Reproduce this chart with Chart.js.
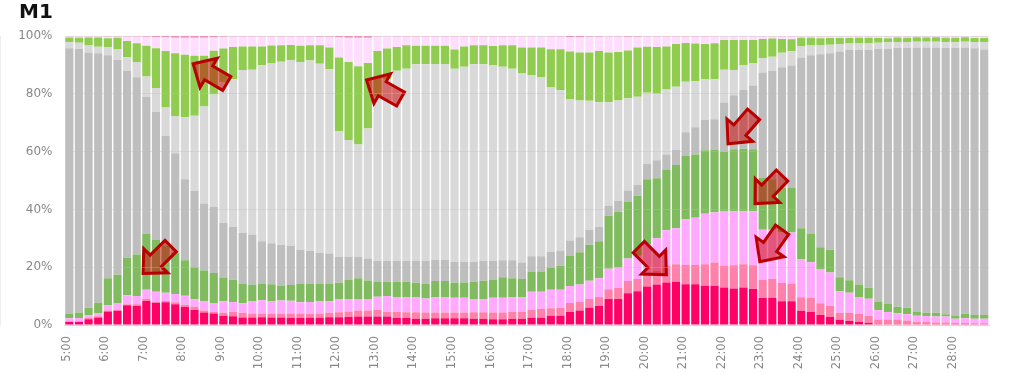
<!DOCTYPE html>
<html>
<head>
<meta charset="utf-8">
<style>
  html, body { margin: 0; padding: 0; background: #fff; }
</style>
<script src="https://cdn.jsdelivr.net/npm/chart.js@4"></script>
</head>
<body>
<canvas id="M1Chart" width="1020" height="377"></canvas>
<script>
const hourLabels = ["5:00","6:00","7:00","8:00","9:00","10:00","11:00","12:00","13:00","14:00","15:00","16:00",
  "17:00","18:00","19:00","20:00","21:00","22:00","23:00","24:00","25:00","26:00","27:00","28:00"];

// upper edge of each band in percent, one value per bar (15 min)
const hotTop = [
  1.0,1.0,2.0,2.6,4.7,4.9,6.8,6.6,8.3,7.7,7.9,7.2,
  6.2,5.2,4.3,4.0,3.2,3.0,2.6,2.6,2.7,2.6,2.6,2.4,
  2.4,2.5,2.5,2.7,2.7,2.8,2.9,2.9,2.9,2.9,2.4,2.4,
  2.2,2.2,2.3,2.3,2.3,2.3,2.2,2.1,2.0,2.0,2.2,2.2,
  2.5,2.5,3.2,3.2,4.5,5.0,6.0,6.6,9.0,9.0,11.0,11.7,
  13.3,14.0,14.7,14.9,14.1,14.1,13.6,13.6,13.0,12.6,13.0,12.5,
  9.3,9.4,8.2,8.2,4.9,4.5,3.5,2.8,1.8,1.4,1.0,0.8,
  0.3,0.3,0.3,0.3,0.3,0.3,0.3,0.3,0.3,0.3,0.3,0.3];
const pinkTop = [
  1.3,1.3,2.4,3.0,5.0,5.2,7.2,7.2,9.0,8.0,8.3,7.9,
  7.0,6.3,5.0,4.6,4.2,4.5,4.2,4.0,4.0,4.0,4.0,4.0,
  4.0,3.8,4.0,4.2,4.4,4.7,5.0,5.0,5.2,4.5,4.5,4.4,
  4.4,4.3,4.3,4.3,4.3,4.3,4.4,4.4,4.3,4.3,4.5,4.5,
  5.3,5.5,5.8,6.0,7.6,8.0,9.0,9.7,12.4,12.8,15.2,15.9,
  18.0,18.8,20.4,21.0,20.8,20.8,21.0,21.6,20.6,20.7,21.0,20.7,
  15.7,16.0,14.5,14.4,9.6,9.4,7.5,6.7,4.2,4.2,3.8,3.2,
  1.9,1.9,1.9,1.6,1.0,1.0,0.9,0.9,0.7,0.7,0.6,0.6];
const lilacTop = [
  2.3,2.4,3.4,4.0,6.8,7.4,10.3,10.0,12.2,11.5,11.2,10.7,
  10.1,8.9,8.1,7.6,8.2,8.0,7.5,8.1,8.6,8.3,8.5,8.4,
  7.9,8.0,8.3,8.3,8.8,9.0,9.0,9.0,9.8,10.0,9.7,9.5,
  9.5,9.2,9.5,9.5,9.4,9.4,9.0,9.0,9.4,9.4,9.5,9.5,
  11.5,11.5,12.2,12.2,13.5,14.0,15.3,16.2,19.5,20.1,23.0,24.0,
  28.0,30.0,32.8,33.5,36.6,37.1,38.5,39.0,39.3,39.3,39.4,39.4,
  33.0,33.0,32.0,32.0,22.8,21.7,19.2,18.2,11.6,11.2,9.7,9.1,
  5.1,4.5,4.1,3.7,3.2,3.1,2.9,2.9,2.2,2.3,2.2,2.2];
const darkGreenTop = [
  3.8,4.3,6.0,7.7,16.2,17.4,23.3,24.4,31.7,29.6,27.5,25.0,
  22.4,20.0,18.9,18.0,16.4,15.7,14.2,13.9,14.2,14.1,13.7,13.8,
  14.2,14.2,14.2,14.2,14.6,15.6,16.2,15.4,15.0,15.0,15.0,15.0,
  14.6,14.4,15.2,15.2,14.6,14.7,15.0,15.3,15.6,16.5,16.2,15.9,
  18.5,18.5,19.9,20.5,23.9,25.2,27.8,29.0,37.8,39.1,42.6,44.7,
  50.4,50.8,53.8,55.4,58.5,59.0,60.5,60.7,60.0,60.8,61.0,60.8,
  51.0,50.4,47.6,47.6,33.5,31.7,26.9,26.0,16.5,15.5,14.0,12.9,
  8.0,7.4,6.3,6.0,4.5,4.2,4.2,3.7,3.3,3.9,3.5,3.5];
const grayTop = [
  95.8,95.5,94.3,94.0,93.3,91.7,88.0,85.7,78.9,73.8,65.4,59.4,
  50.4,46.4,42.0,40.8,35.3,34.0,31.8,31.3,29.0,28.3,27.7,27.4,
  26.0,25.7,25.0,24.7,23.6,23.6,23.6,23.0,22.2,22.2,22.2,22.2,
  22.2,22.2,22.5,22.5,21.8,21.8,21.8,22.2,22.2,22.4,22.4,21.6,
  23.8,23.8,25.3,25.8,29.2,30.4,33.0,34.0,41.3,43.0,46.5,48.4,
  55.8,57.0,59.0,60.6,66.7,68.4,71.0,71.2,77.0,79.5,81.4,82.9,
  87.4,88.0,89.2,89.8,92.6,93.3,93.7,94.0,94.6,95.2,95.2,95.2,
  95.6,95.6,95.9,95.9,96.0,96.0,96.0,95.9,95.9,96.0,95.8,95.3];
const lightGrayTop = [
  97.8,97.7,96.7,96.3,96.2,95.3,92.7,91.0,86.0,82.0,75.3,72.3,
  71.9,72.4,75.6,79.8,84.0,85.0,88.2,88.3,89.9,90.5,91.1,91.6,
  90.9,91.5,90.4,88.5,67.0,64.0,62.5,68.0,79.0,85.0,88.0,88.7,
  90.2,90.2,90.3,90.3,88.7,89.4,90.2,90.2,89.9,89.4,88.7,87.0,
  86.5,85.8,82.2,81.3,78.2,77.7,77.6,77.1,77.1,77.7,78.5,79.0,
  80.4,80.0,81.5,82.4,84.2,84.3,85.1,85.0,88.3,88.2,89.9,90.7,
  92.3,92.8,94.2,94.8,96.4,96.7,96.7,97.0,97.2,97.4,97.4,97.4,
  97.7,97.8,97.9,97.9,98.0,98.0,98.0,97.8,97.8,98.0,97.8,97.8];
const greenTop = [
  99.5,99.4,99.5,99.5,99.2,99.4,98.3,97.5,96.6,95.8,94.8,94.0,
  93.5,93.2,93.2,94.9,95.7,96.2,96.4,96.4,96.4,96.7,96.8,96.9,
  96.6,96.8,96.8,96.0,92.6,91.0,89.5,90.7,94.8,95.7,96.2,96.8,
  96.6,96.6,96.6,96.6,95.3,96.4,96.8,96.8,96.5,96.8,96.8,96.0,
  96.0,96.0,95.4,95.4,94.6,94.3,94.3,94.8,94.3,94.5,95.0,96.0,
  96.3,96.2,96.4,97.2,97.6,97.4,97.2,97.5,98.6,98.6,98.6,98.6,
  99.0,99.1,99.0,98.9,99.4,99.4,99.2,99.3,99.3,99.3,99.4,99.4,
  99.3,99.2,99.5,99.4,99.6,99.5,99.6,99.4,99.4,99.6,99.3,99.3];
const paleTop = [
  99.9,99.9,99.9,99.9,99.8,99.8,99.8,99.8,99.7,99.6,99.6,99.4,
  99.4,99.4,99.4,99.5,99.7,99.8,99.8,99.8,99.8,99.8,99.8,99.8,
  99.8,99.8,99.7,99.7,99.6,99.4,99.4,99.4,99.8,99.9,99.8,99.8,
  99.8,99.8,99.8,99.8,99.8,99.8,99.8,99.8,99.8,99.8,99.8,99.9,
  99.9,99.9,99.8,99.8,99.6,99.6,99.7,99.7,99.8,99.8,99.7,99.7,
  99.8,99.8,99.8,99.8,99.8,99.8,99.8,99.9,99.9,99.9,99.9,99.9,
  99.9,99.9,99.9,99.9,99.9,99.9,99.9,99.9,99.9,99.9,99.9,99.9,
  99.9,99.9,99.9,99.9,99.9,99.9,99.9,99.9,99.9,99.9,99.9,99.9];

// one label per 15 min bar, only the full hours get shown
const categories = hourLabels.flatMap((h) => [h, "", "", ""]);

const bands = [
  { top: hotTop, color: "#ff0066" },
  { top: pinkTop, color: "#ff80aa" },
  { top: lilacTop, color: "#ffaaff" },
  { top: darkGreenTop, color: "#80bb60" },
  { top: grayTop, color: "#bebebe" },
  { top: lightGrayTop, color: "#d9d9d9" },
  { top: greenTop, color: "#90cc50" },
  { top: paleTop, color: "#ffddff" },
  { top: categories.map(() => 100), color: "#ff80aa" },
];

const datasets = bands.map((band, b) => ({
  data: band.top.map((v, i) => +(v - (b ? bands[b - 1].top[i] : 0)).toFixed(1)),
  backgroundColor: band.color,
  categoryPercentage: 0.85,
  barPercentage: 1,
}));

// callout arrows: tip in chart units (bar index, percent) and direction towards the tail
const arrows = [
  { bar: 12.86, pct: 90.4, dx: 34, dy: 20 },
  { bar: 7.66, pct: 17.8, dx: 27, dy: -27 },
  { bar: 30.86, pct: 84.8, dx: 34, dy: 19 },
  { bar: 62.0, pct: 17.4, dx: -28, dy: -28 },
  { bar: 68.4, pct: 62.7, dx: 26, dy: -30 },
  { bar: 71.2, pct: 42.0, dx: 28, dy: -29 },
  { bar: 71.7, pct: 21.9, dx: 23, dy: -33 },
];

const arrowPlugin = {
  id: "arrows",
  afterDatasetsDraw(chart) {
    const { ctx, scales } = chart;
    arrows.forEach((a) => {
      const x = scales.x.getPixelForValue(a.bar);
      const y = scales.y.getPixelForValue(a.pct);
      ctx.save();
      ctx.translate(x, y);
      ctx.rotate(Math.atan2(a.dy, a.dx));
      ctx.beginPath();
      ctx.moveTo(0, 0);
      ctx.lineTo(18, -17);
      ctx.lineTo(18, -8);
      ctx.lineTo(39, -8);
      ctx.lineTo(39, 8);
      ctx.lineTo(18, 8);
      ctx.lineTo(18, 17);
      ctx.closePath();
      ctx.fillStyle = "rgba(200, 0, 0, 0.5)";
      ctx.fill();
      ctx.strokeStyle = "#b80000";
      ctx.lineWidth = 3;
      ctx.stroke();
      ctx.restore();
    });
  },
};

new Chart(document.getElementById("M1Chart"), {
  type: "bar",
  data: { labels: categories, datasets: datasets },
  plugins: [arrowPlugin],
  options: {
    responsive: false,
    animation: false,
    layout: { padding: { left: 19, right: 31, top: 0, bottom: 0 } },
    plugins: {
      legend: { display: false },
      tooltip: { enabled: false },
      title: {
        display: true,
        text: "M1",
        align: "start",
        color: "#111",
        font: { family: "'DejaVu Sans'", size: 20, weight: "bold" },
        padding: { top: 1, bottom: 11 },
      },
    },
    scales: {
      x: {
        stacked: true,
        grid: { display: false, drawTicks: false },
        border: { color: "#fcd9ee" },
        afterFit: (scale) => { scale.height = 52; },
        ticks: {
          autoSkip: false,
          minRotation: 90,
          maxRotation: 90,
          labelOffset: -2.5,
          padding: 11,
          color: "#888",
          font: { family: "'DejaVu Sans'", size: 11.5 },
        },
      },
      y: {
        stacked: true,
        min: 0,
        max: 100,
        afterFit: (scale) => { scale.width = 45.5; },
        grid: { color: "rgba(190, 190, 190, 0.35)", drawTicks: false, z: 1 },
        border: { color: "#ddd" },
        ticks: {
          stepSize: 20,
          padding: 12,
          color: "#888",
          callback: (v) => v + "%",
          font: { family: "'DejaVu Sans'", size: 12 },
        },
      },
    },
  },
});
</script>
</body>
</html>
